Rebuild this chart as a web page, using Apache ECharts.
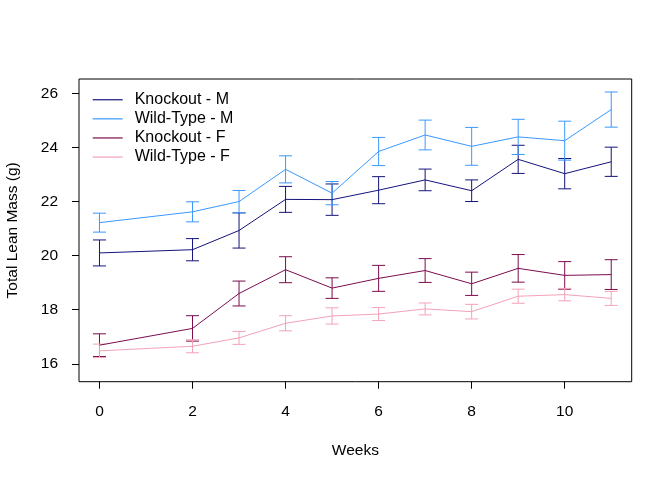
<!DOCTYPE html>
<html>
<head>
<meta charset="utf-8">
<script src="https://cdn.jsdelivr.net/npm/echarts@6/dist/echarts.min.js"></script>
<style>html,body{margin:0;padding:0;background:#fff;}#c{width:672px;height:480px;}</style>
</head>
<body>
<div id="c"></div>
<script>
const weeks = [0, 2, 3, 4, 5, 6, 7, 8, 9, 10, 11];
const xTicks = [0, 2, 4, 6, 8, 10];
const yTicks = [16, 18, 20, 22, 24, 26];
const seriesNames = ['Knockout - M', 'Wild-Type - M', 'Knockout - F', 'Wild-Type - F'];
const koM = [20.10, 20.22, 20.93, 22.08, 22.07, 22.42, 22.80, 22.40, 23.56, 23.03, 23.47];
const koMErr = [0.48, 0.41, 0.65, 0.48, 0.58, 0.50, 0.40, 0.40, 0.52, 0.56, 0.54];
const wtM = [21.22, 21.62, 22.00, 23.19, 22.31, 23.85, 24.46, 24.04, 24.39, 24.25, 25.40];
const wtMErr = [0.35, 0.37, 0.41, 0.50, 0.43, 0.52, 0.55, 0.70, 0.65, 0.72, 0.65];
const koF = [16.69, 17.31, 18.60, 19.48, 18.80, 19.16, 19.45, 18.96, 19.53, 19.27, 19.30];
const koFErr = [0.42, 0.47, 0.46, 0.48, 0.38, 0.48, 0.44, 0.43, 0.51, 0.51, 0.55];
const wtF = [16.48, 16.65, 16.96, 17.50, 17.77, 17.84, 18.03, 17.93, 18.50, 18.56, 18.42];
const wtFErr = [0.25, 0.24, 0.24, 0.28, 0.30, 0.24, 0.22, 0.27, 0.26, 0.23, 0.26];
const colors = ['#14147c', '#3a98ff', '#7c0c4c', '#f3a2b8'];

const means = [koM, wtM, koF, wtF];
const errs = [koMErr, wtMErr, koFErr, wtFErr];
const FONT = 'Liberation Sans, Arial, Helvetica, sans-serif';

function errorRender(color) {
  return function (params, api) {
    const x = api.value(0);
    const lo = api.coord([x, api.value(1)]);
    const hi = api.coord([x, api.value(2)]);
    const w = 6.5;
    const st = { stroke: color, lineWidth: 1 };
    return {
      type: 'group',
      children: [
        { type: 'line', shape: { x1: lo[0], y1: lo[1], x2: hi[0], y2: hi[1] }, style: st },
        { type: 'line', shape: { x1: lo[0] - w, y1: lo[1], x2: lo[0] + w, y2: lo[1] }, style: st },
        { type: 'line', shape: { x1: hi[0] - w, y1: hi[1], x2: hi[0] + w, y2: hi[1] }, style: st }
      ]
    };
  };
}

const series = [];
seriesNames.forEach((name, i) => {
  series.push({
    name: name,
    type: 'line',
    data: weeks.map((w, j) => [w, means[i][j]]),
    showSymbol: false,
    symbol: 'none',
    lineStyle: { color: colors[i], width: 1 },
    itemStyle: { color: colors[i] },
    animation: false,
    silent: true
  });
  series.push({
    name: name,
    type: 'custom',
    data: weeks.map((w, j) => [w, means[i][j] - errs[i][j], means[i][j] + errs[i][j]]),
    renderItem: errorRender(colors[i]),
    encode: { x: 0, y: [1, 2] },
    itemStyle: { color: colors[i] },
    animation: false,
    silent: true
  });
});

const chart = echarts.init(document.getElementById('c'), null, { renderer: 'canvas' });
chart.setOption({
  backgroundColor: '#fff',
  animation: false,
  textStyle: { fontFamily: FONT },
  grid: {
    left: 79, top: 79, right: 40.3, bottom: 98.3,
    containLabel: false,
    outerBoundsMode: 'none',
    show: true, borderColor: '#000', borderWidth: 1, backgroundColor: 'transparent'
  },
  legend: {
    show: true,
    data: seriesNames.map(n => ({ name: n, icon: 'rect' })),
    orient: 'vertical',
    left: 92.7,
    top: 90.2,
    itemWidth: 30,
    itemHeight: 1.2,
    itemGap: 0,
    selectedMode: false,
    textStyle: { fontFamily: FONT, fontSize: 16, color: '#000', lineHeight: 19.1, padding: [0, 0, 0, 7] },
    padding: 0
  },
  xAxis: {
    type: 'value',
    min: -0.44,
    max: 11.44,
    name: 'Weeks',
    nameLocation: 'middle',
    nameGap: 61,
    nameTextStyle: { fontFamily: FONT, fontSize: 15.5, color: '#000' },
    axisLine: { show: false, onZero: false },
    splitLine: { show: false },
    axisTick: { show: true, inside: false, length: 7, customValues: xTicks, lineStyle: { color: '#000' } },
    axisLabel: { customValues: xTicks, fontFamily: FONT, fontSize: 15.5, color: '#000', margin: 22 }
  },
  yAxis: {
    type: 'value',
    min: 15.34,
    max: 26.53,
    name: 'Total Lean Mass (g)',
    nameLocation: 'middle',
    nameGap: 58,
    nameRotate: 90,
    nameTextStyle: { fontFamily: FONT, fontSize: 15.5, color: '#000' },
    axisLine: { show: false, onZero: false },
    splitLine: { show: false },
    axisTick: { show: true, inside: false, length: 7, customValues: yTicks, lineStyle: { color: '#000' } },
    axisLabel: { customValues: yTicks, fontFamily: FONT, fontSize: 15.5, color: '#000', margin: 21 }
  },
  series: series
});
</script>
</body>
</html>
